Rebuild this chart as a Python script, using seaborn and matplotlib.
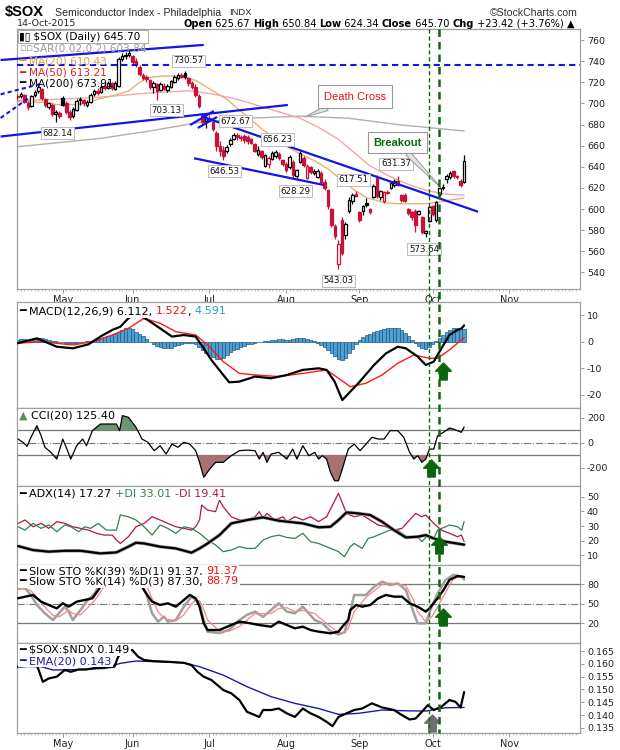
import numpy as np
import pandas as pd
import matplotlib
matplotlib.use("Agg")
import matplotlib.pyplot as plt
import matplotlib.transforms as mtransforms
from matplotlib.lines import Line2D
from matplotlib.path import Path
import seaborn as sns

sns.set_theme(style="white")
plt.rcParams['font.family'] = ['DejaVu Sans']
plt.rcParams['axes.unicode_minus'] = False
ARIAL = ['Liberation Sans', 'DejaVu Sans']

# ---------------- data ----------------
HOLIDAYS = ['2015-05-25', '2015-07-03', '2015-09-07', '2015-11-26']

OPEN = [706,707,708,700,698,708,712,714,704,697, 699,690,691,705,700,692,688,694,703,703,
        699,701,709,712,711,717,715,719,714,717, 742,745,746,745,740,735,727,725,722,716,
        718,713,717,713,716,720,724,727,729,724, 719,716,707,690,683,686,682,672,660,656,
        655,662,666,670,668,669,668,666,662,652, 655,641,643,647,650,652,646,643,640,645,
        631,645,648,629,640,634,630,634,626,618, 600,584,548,590,575,598,608,614,597,598,
        606,600,611,629,611,608,616,620,623,627, 613,613,600,597,598,595,592,577,589,603,
        590,614,620,628,630,636,631,627,625.67]
HIGH = [709,711,709,702,708,713,718,715,705,701, 700,694,693,707,702,694,697,704,706,704,
        703,710,714,715,719,720,721,720,721,744, 748,749,751,746,743,736,729,727,723,721,
        719,720,719,718,722,727,729,729,730.57,725, 721,718,709,691,688,689,683,674,664,660,
        661,667,672,672,670,671,670,667,663,660, 656.23,652,650,655,656,654,647,645,651,646,
        638,655,650,643,641,638,638,636,628,619, 601,586,571,592,588,611,615,617.51,598,604,
        610,601,624,632,618,617,618,626,628,631.37, 614,615,601,598,600,599,593,580,604,604,
        608,621,624,633,636,637,632,628,650.84]
LOW = [703,705,700,694,697,706,710,703,697,695, 688,682.14,686,698,690,684,686,693,699,698,
       697,700,707,708,710,713,714,713,713,716, 740,742,744,737,735,726,722,720,714,710,
       703.13,712,713,711,715,719,722,724,723,717, 714,706,696,680,677,683,674,655,650,646.53,
       653,660,665,665,664,663,662,662,654,650, 647,640,639,646,648,646,641,635,638,628.29,
       629,644,640,628,633,632,629,624,618,600, 583,572,543.03,556,572,596,605,611,588,594,
       602,595,610,610,609,606,614,619,621,622, 607,607,594,590,578,594,576,573.64,588,593,
       588,612,618,625,628,629,628,621,624.34]
CLOSE = [707,709,701,697,707,711,716,705,699,700, 690,692,688,699,692,687,695,702,704,700,
         701,708,712,710,716,715,719,715,719,742, 745,746,748,739,737,728,724,723,716,719,
         712,718,714,717,721,725,727,725,725,719, 716,708,698,682,686,684,676,660,655,650,
         659,665,670,668,667,665,664,663,655,656, 649,651,648,653,654,648,643,637,649,632,
         637,653,642,641,635,636,636,626,620,603, 585,574,567,558,586,609,613,612,590,603,
         604,597,622,612,617,616,615,625,627,623, 609,608,596,592,585,598,578,579,602,595,
         607,620,621,631,634,631,630,622.28,645.70]

MA20_X = [0, 8, 11, 16, 19.5, 23, 28, 32, 35, 37.5, 42, 47, 51, 54, 57, 60, 65, 70, 75, 80, 85, 89, 93, 97, 100, 105, 109, 113, 117, 121, 125, 128]
MA20_V = [702, 701, 699, 699, 700, 704, 708, 712, 720, 724.6, 726, 726, 722, 716, 710, 704, 690, 676, 664, 654, 646, 638, 627, 617, 611, 606, 605, 605, 605, 607, 609, 610.43]
MA50_X = [0, 12, 24, 38, 49, 56, 63, 70, 76, 81, 86, 92, 97, 101, 106, 110, 114, 118, 123, 128]
MA50_V = [703, 704, 706, 710, 712, 709, 704, 697, 691, 686, 678, 666, 652, 641, 632, 626, 621, 617, 614, 613.21]
MA200_X = [0, 12, 24, 38, 52, 66, 81, 95, 109, 128]
MA200_V = [659, 663, 667, 674, 682, 686, 688, 686, 680, 673.91]

# user-drawn trend lines (day index, price)
TREND_SOLID = [[(-4.8, 741.2), (53.4, 755.5)],
               [(-4.8, 668.7), (77.5, 698.6)],
               [(53.0, 687.5), (132.0, 597.4)],
               [(50.6, 648.1), (87.9, 622.7)],
               [(49.5, 679.6), (56.3, 692.9)],
               [(51.7, 676.8), (57.2, 687.2)]]
TREND_DOTTED = [[(-4.8, 708.7), (7.3, 719.1)],
                [(-4.8, 686.3), (3.8, 706.4)]]
RESIST_LEVEL = 736.0

PRICE_LABELS = [("730.57", 49.1, 740.3), ("703.13", 42.8, 693.8), ("682.14", 11.6, 672.0),
                ("672.67", 62.4, 683.0), ("656.23", 74.6, 665.9), ("646.53", 59.3, 636.0),
                ("628.29", 79.7, 617.0), ("617.51", 96.4, 627.5), ("631.37", 108.5, 642.7),
                ("573.64", 116.5, 562.0), ("543.03", 91.9, 531.8)]

MACD_X = [0, 5.6, 11.3, 15.9, 20.4, 23.8, 27.2, 29.5, 31.8, 33.5, 35.2, 37.4, 40.9, 44.3, 47.7, 51.1, 53.4, 55.6, 59.0, 60.7, 63.6, 68.1, 72.7, 77.2, 81.8, 86.3, 88.6, 90.9, 93.1, 95.4, 97.7, 102.2, 105.6, 109.0, 111.3, 114.7, 117.0, 119.3, 121.5, 123.8, 126.1, 127.3, 128]
MACD_V = [-0.6, 1.25, -1.9, -2.5, -1.0, 1.9, 4.4, 5.6, 8.75, 10.3, 9.8, 8.1, 5.0, 1.9, 2.5, 1.9, -2.5, -6.9, -12.5, -15.25, -15.0, -13.1, -13.75, -12.5, -10.6, -10.0, -10.6, -15.0, -21.9, -18.75, -15.6, -8.75, -4.4, -1.9, -2.5, -5.6, -8.75, -7.5, -2.5, 2.5, 4.4, 5.0, 6.112]
SIG_X = [0, 6.8, 15.9, 21.5, 27.2, 31.8, 36.3, 40.9, 45.4, 51.1, 54.5, 59.0, 63.6, 68.1, 74.9, 81.8, 88.6, 92.0, 95.4, 99.9, 104.5, 109.0, 113.6, 118.1, 120.4, 123.8, 128]
SIG_V = [-0.6, 0.0, -1.25, 0.0, 2.5, 5.0, 8.75, 6.9, 3.75, 2.5, -1.25, -7.5, -11.9, -12.5, -13.1, -11.9, -10.6, -13.75, -16.9, -15.6, -12.5, -8.1, -5.0, -6.25, -6.25, -3.1, 1.522]
HIST = [0.8,1.0,0.9,0.7,0.8,1.0,1.3,1.2,0.9,0.6,0.4,0.2,0.0,
        -0.2,-0.4,-0.6,-0.6,-0.4,-0.2,0.0,0.2,0.4,0.7,
        1.0,1.4,1.8,2.2,2.6,3.0,3.6,4.4,5.0,5.0,4.6,
        3.8,3.0,2.0,1.0,0.0,-0.8,-1.5,
        -2.0,-2.3,-2.4,-2.2,-1.8,-1.2,-0.8,-0.6,-0.5,-0.6,-1.0,
        -2.0,-3.2,-4.2,-5.0,-5.8,-6.4,-6.6,-6.0,-5.0,-4.0,-3.2,
        -2.6,-2.0,-1.5,-1.0,-0.7,-0.5,-0.3,0.0,
        0.2,0.4,0.6,0.8,0.9,1.0,0.8,0.6,0.9,1.2,1.4,1.2,1.0,0.6,0.2,
        -0.5,-1.2,-2.0,-3.0,-4.2,-5.4,-6.6,-7.0,-6.0,-4.4,-2.8,-1.0,
        0.6,1.6,2.4,3.0,3.6,4.0,4.4,4.8,5.0,5.2,5.2,5.0,4.4,3.4,2.0,
        0.6,-0.6,-1.6,-2.4,-2.6,-2.0,-1.0,
        0.2,1.4,2.6,3.6,4.4,5.0,5.2,5.0,4.591]

CCI_X = [0.2, 1.6, 2.8, 3.9, 5.6, 6.8, 7.9, 9.6, 11.3, 13.0, 14.2, 15.3, 17.0, 18.7, 19.8, 21.5, 23.8, 26.6, 28.4, 29.3, 30.1, 31.8, 34.0, 35.7, 37.4, 39.2, 40.9, 42.6, 44.3, 46.0, 47.7, 49.4, 51.1, 52.2, 53.4, 55.1, 56.8, 59.0, 61.3, 63.6, 65.8, 68.1, 69.3, 70.4, 71.5, 72.7, 74.9, 77.2, 78.9, 80.1, 81.8, 83.5, 85.2, 86.3, 87.4, 88.6, 89.7, 90.9, 92.0, 93.1, 94.8, 96.5, 98.2, 99.9, 101.6, 103.4, 105.1, 106.8, 109.0, 110.7, 112.4, 113.6, 114.7, 115.9, 117.0, 118.1, 119.3, 120.4, 122.1, 123.8, 124.9, 127.2, 128]
CCI_V = [29, 3, -29, 43, 136, 56, -37, -77, -131, 29, -51, -131, -24, 29, -24, 96, 149, 149, 149, 96, 216, 203, 123, 29, 3, -64, -24, -91, -11, -37, 3, -11, -64, -157, -277, -211, -157, -157, -104, -64, -59, -64, -131, -77, -157, -91, -77, -131, -51, -131, -24, -104, -77, -131, -104, -131, -237, -304, -304, -211, -51, -11, -64, -11, 43, 29, 29, 96, 96, 43, -77, -131, -104, -157, -131, -51, -51, 56, 83, 117, 109, 83, 125.4]

ADX_X = [0.2, 4.5, 9.0, 13.6, 18.1, 23.8, 28.4, 31.8, 34.0, 36.3, 40.9, 45.4, 49.9, 52.2, 54.5, 57.9, 61.3, 65.8, 70.4, 74.9, 81.8, 86.3, 89.7, 92.0, 94.3, 97.7, 101.1, 104.5, 107.9, 111.3, 114.7, 117.0, 119.3, 122.7, 128]
ADX_V = [16.3, 13.6, 12.5, 13.1, 13.1, 11.3, 12.0, 15.9, 18.6, 18.1, 15.9, 14.7, 11.8, 14.7, 18.1, 23.8, 31.8, 34.1, 35.9, 33.6, 31.8, 29.1, 29.5, 34.0, 39.3, 38.6, 37.5, 32.9, 27.2, 22.2, 22.7, 23.8, 21.5, 19.3, 17.27]
PDI_X = [0.2, 2.2, 4.5, 6.8, 9.0, 11.3, 13.6, 15.3, 17.6, 19.3, 21.0, 23.2, 25.5, 28.4, 29.5, 31.8, 34.0, 36.3, 38.6, 40.9, 43.1, 45.4, 47.7, 49.9, 52.2, 54.5, 56.8, 59.0, 61.3, 63.6, 65.8, 68.1, 70.4, 72.7, 74.9, 77.2, 79.5, 81.8, 84.0, 86.3, 88.6, 92.0, 93.7, 95.4, 96.5, 98.8, 100.5, 102.2, 104.5, 106.8, 109.0, 110.2, 112.4, 114.7, 115.9, 117.6, 119.3, 120.4, 122.7, 123.8, 126.1, 127.3, 128]
PDI_V = [29.5, 27.2, 31.8, 28.4, 30.7, 26.1, 30.7, 29.5, 26.1, 29.5, 28.4, 31.8, 27.2, 27.2, 37.5, 36.3, 34.1, 29.5, 23.8, 30.7, 28.4, 25.0, 29.5, 28.4, 25.0, 20.4, 17.0, 12.5, 13.6, 15.9, 14.7, 14.7, 20.4, 22.7, 23.8, 22.2, 21.5, 25.0, 19.3, 18.1, 15.9, 12.5, 9.0, 15.9, 18.1, 14.7, 21.5, 22.7, 25.0, 27.2, 27.2, 25.0, 21.5, 22.7, 19.3, 23.8, 21.5, 27.2, 29.5, 30.7, 29.5, 27.2, 33.01]
MDI_X = [0.2, 2.2, 4.5, 6.8, 9.0, 11.3, 13.6, 15.9, 18.1, 20.4, 22.7, 24.9, 27.2, 28.4, 29.5, 31.8, 34.0, 36.3, 38.6, 40.9, 43.1, 45.4, 47.7, 49.9, 51.1, 52.2, 52.8, 54.5, 56.8, 57.9, 59.0, 61.3, 63.6, 65.8, 68.1, 69.3, 70.4, 71.5, 73.8, 76.1, 77.2, 79.5, 81.8, 84.0, 86.3, 88.6, 90.3, 92.0, 94.3, 96.5, 98.8, 101.1, 103.4, 105.6, 107.9, 110.2, 112.4, 114.1, 115.9, 117.0, 119.3, 121.5, 123.8, 126.1, 127.2, 128]
MDI_V = [31.8, 34.1, 29.5, 31.8, 28.4, 33.0, 31.8, 29.5, 28.4, 27.2, 25.0, 23.8, 23.8, 20.4, 18.1, 22.7, 29.5, 31.8, 36.3, 34.1, 31.8, 29.5, 28.4, 27.2, 29.5, 34.1, 44.3, 40.9, 39.8, 47.7, 43.1, 36.3, 34.1, 34.1, 36.3, 39.8, 35.2, 38.6, 34.1, 36.3, 33.0, 36.3, 34.1, 36.3, 33.0, 36.3, 44.3, 52.3, 38.6, 36.3, 37.5, 34.1, 30.7, 29.5, 27.2, 28.4, 34.1, 38.6, 36.3, 37.5, 31.8, 27.2, 25.0, 22.7, 23.8, 19.41]

K39_X = [0.2, 4.5, 6.8, 9.0, 11.3, 13.0, 14.7, 17.0, 19.3, 21.5, 23.2, 23.8, 25.5, 28.4, 31.8, 34.0, 35.2, 35.7, 36.9, 38.6, 40.9, 43.1, 45.4, 47.7, 49.4, 51.1, 52.2, 53.4, 54.5, 57.9, 59.0, 61.3, 63.6, 65.8, 69.3, 72.7, 74.9, 77.2, 79.5, 81.8, 84.0, 86.3, 89.7, 92.0, 93.1, 94.8, 95.4, 97.1, 98.8, 101.1, 103.4, 105.6, 107.9, 110.2, 112.4, 114.7, 117.0, 118.1, 120.4, 122.1, 123.8, 126.1, 128]
K39_V = [58.5, 63.6, 53.3, 48.2, 43.0, 50.8, 45.6, 53.3, 55.9, 58.5, 71.3, 76.4, 90, 95, 99, 94, 85, 76, 66.0, 53.3, 48.2, 50.8, 45.6, 55.9, 63.6, 58.5, 45.6, 20.0, 9.7, 9.7, 12.3, 17.4, 22.6, 21.0, 17.4, 14.8, 22.6, 17.4, 12.3, 14.8, 9.7, 7.2, 4.6, 7.2, 14.8, 25.1, 40.5, 48.2, 45.6, 48.2, 58.5, 63.6, 61.0, 61.0, 50.8, 45.6, 38.0, 43.0, 58.5, 71.3, 86.7, 92.8, 91.37]
K14_X = [0.2, 2.2, 3.9, 5.6, 7.9, 10.2, 11.9, 13.6, 14.7, 15.9, 18.1, 19.8, 22.1, 23.8, 25.5, 28.4, 31.8, 34.0, 35.2, 36.9, 38.6, 40.3, 42.0, 43.1, 45.4, 47.7, 49.9, 51.1, 52.2, 53.4, 54.5, 57.9, 60.7, 63.6, 65.8, 68.1, 70.4, 72.7, 74.9, 77.2, 79.5, 81.8, 85.2, 87.4, 89.7, 92.0, 93.7, 94.8, 96.5, 99.9, 102.2, 104.5, 106.8, 109.0, 111.3, 113.6, 114.7, 117.0, 118.7, 120.4, 122.7, 124.9, 127.2, 128]
K14_V = [73.8, 73.8, 63.6, 48.2, 35.4, 25.0, 35.4, 45.6, 38.0, 25.0, 40.5, 53.3, 66.0, 81.5, 92, 97, 99, 96, 86.7, 66.0, 35.4, 22.6, 30.3, 22.6, 25.0, 45.6, 61.0, 56, 51, 25, 7, 5, 10, 25.0, 33, 38.0, 30, 40.5, 50.8, 38.0, 35.4, 45.6, 25.0, 20, 8, 3, 6, 25, 63.6, 63.6, 76.4, 84.0, 79, 81.5, 71.3, 35.4, 20.0, 20.0, 45.6, 66.0, 86.7, 94.4, 92, 87.30]
D3_X = K14_X
D3_V = [72, 74, 70, 60, 45, 32, 30, 36, 40, 35, 33, 42, 55, 68, 82, 94, 98, 97, 92, 80, 58, 38, 28, 26, 24, 33, 50, 56, 55, 42, 25, 8, 8, 15, 25, 35, 35, 35, 43, 44, 38, 40, 35, 25, 15, 6, 5, 12, 38, 60, 70, 80, 82, 80, 78, 55, 38, 22, 30, 45, 68, 88, 93, 88.79]

RATIO_X = [0.2, 5.6, 7.3, 9.0, 11.3, 13.6, 15.3, 17.6, 19.8, 22.7, 24.9, 27.8, 28.9, 30.1, 32.9, 34.6, 36.3, 38.6, 43.1, 47.7, 49.9, 51.6, 53.4, 55.6, 59.0, 61.3, 63.6, 65.8, 68.1, 69.3, 70.4, 72.7, 74.9, 77.2, 79.5, 81.8, 84.0, 86.3, 88.6, 90.3, 92.0, 94.3, 96.5, 98.8, 101.6, 104.5, 107.9, 110.2, 112.4, 114.1, 115.9, 117.6, 119.3, 121.5, 123.8, 125.5, 127.0, 128]
RATIO_V = [0.1589, 0.1595, 0.1530, 0.1543, 0.1550, 0.1576, 0.1569, 0.1578, 0.1578, 0.1585, 0.1585, 0.1589, 0.1628, 0.1647, 0.1654, 0.1628, 0.1615, 0.1611, 0.1608, 0.1604, 0.1595, 0.1569, 0.1550, 0.1537, 0.1498, 0.1485, 0.1459, 0.1413, 0.1400, 0.1393, 0.1420, 0.1420, 0.1426, 0.1407, 0.1393, 0.1426, 0.1407, 0.1393, 0.1374, 0.1357, 0.1393, 0.1407, 0.1420, 0.1426, 0.1446, 0.1430, 0.1420, 0.1400, 0.1383, 0.1387, 0.1413, 0.1439, 0.1420, 0.1433, 0.1459, 0.1452, 0.1430, 0.149]
EMA_X = [0, 6.8, 10.2, 18.1, 24.9, 29.5, 34.0, 40.9, 47.7, 52.2, 59.0, 65.8, 72.7, 79.5, 86.3, 92.0, 97.7, 104.5, 111.3, 117.0, 122.7, 128]
EMA_V = [0.1590, 0.1589, 0.1576, 0.1578, 0.1582, 0.1602, 0.1611, 0.1608, 0.1604, 0.1589, 0.1556, 0.1511, 0.1472, 0.1446, 0.1426, 0.1403, 0.1407, 0.1420, 0.1417, 0.1416, 0.1429, 0.1430]

SIGNAL_DAYS = [117.9, 120.7]          # vertical dashed markers
ARROWS = {"macd": (121.9, -11.0), "cci": (118.5, -203.0), "adx": (120.7, 17.0),
          "sto": (121.9, 29.0), "ratio": (118.8, 0.1371)}

# ---------------- figure ----------------
days = pd.bdate_range('2015-04-14', '2015-11-30')
days = days[~days.isin(pd.to_datetime(HOLIDAYS))]
N = len(CLOSE)
idx = np.arange(N)
month_pos = [i for i in range(1, len(days)) if days[i].month != days[i - 1].month]
month_lab = [days[i].strftime('%b') for i in month_pos]
XLIM = (-0.1, 161.2)

fig = plt.figure(figsize=(6.2, 7.5), dpi=100)
fig.patch.set_facecolor('white')


def px_axes(top, bottom, left=17, right=580):
    return fig.add_axes([left / 620, 1 - bottom / 750, (right - left) / 620, (bottom - top) / 750])


ax_p = px_axes(29.3, 289)
ax_m = px_axes(301.7, 408)
ax_c = px_axes(408, 486)
ax_a = px_axes(486, 565)
ax_s = px_axes(565, 642.7)
ax_r = px_axes(642.7, 732.7)


def style(ax, ylim, yticks, labels=None, xlabels=False):
    ax.set_facecolor('white')
    ax.set_xlim(*XLIM)
    ax.set_ylim(*ylim)
    ax.yaxis.tick_right()
    ax.set_yticks(yticks)
    if labels is not None:
        ax.set_yticklabels(labels)
    ax.tick_params(axis='y', which='both', length=3, width=0.7, color='#999999', labelsize=6.8,
                   pad=2, labelcolor='#222222', left=False, right=True)
    ax.set_xticks(month_pos)
    if xlabels:
        ax.set_xticklabels(month_lab)
        ax.set_xticks(np.arange(0, 161), minor=True)
        ax.tick_params(axis='x', which='major', length=3, width=0.7, color='#999999', labelsize=7,
                       pad=1.5, labelcolor='#222222', bottom=True)
        ax.tick_params(axis='x', which='minor', length=1.6, width=0.5, color='#aaaaaa', bottom=True)
    else:
        ax.set_xticklabels([])
        ax.tick_params(axis='x', length=0)
    for s in ax.spines.values():
        s.set_color('#a0a0a0')
        s.set_linewidth(0.9)
    ax.set_xlabel('')
    ax.set_ylabel('')


def line(ax, X, V, color, lw, z=3):
    sns.lineplot(x=X, y=V, ax=ax, color=color, linewidth=lw, estimator=None, sort=False, zorder=z)


RED = '#cc1136'

# ---- price panel ----
o = np.array(OPEN, float); h = np.array(HIGH, float); l = np.array(LOW, float); c = np.array(CLOSE, float)
prev = np.r_[c[0] + 1, c[:-1]]
edge = np.where(c < prev, RED, 'black')
face = np.where(c < o, edge, 'white')
line(ax_p, MA200_X, MA200_V, '#b0b0b0', 1.0, 2)
line(ax_p, MA50_X, MA50_V, '#f0a8a8', 1.0, 2)
line(ax_p, MA20_X, MA20_V, '#e6b470', 1.0, 2)
ax_p.vlines(idx, l, h, colors=edge, linewidth=0.9, zorder=4)
ax_p.bar(idx, np.maximum(np.abs(c - o), 0.6), bottom=np.minimum(o, c), width=0.74,
         color=face, edgecolor=edge, linewidth=0.9, zorder=5)
for seg in TREND_SOLID:
    ax_p.plot([seg[0][0], seg[1][0]], [seg[0][1], seg[1][1]], color='#1414e6', lw=1.6,
              zorder=6, clip_on=False, solid_capstyle='butt')
for seg in TREND_DOTTED:
    ax_p.plot([seg[0][0], seg[1][0]], [seg[0][1], seg[1][1]], color='#1414e6', lw=1.5,
              ls=(0, (2, 1.5)), zorder=6, clip_on=False)
ax_p.axhline(RESIST_LEVEL, color='#1414e6', lw=1.5, ls=(0, (3, 2)), zorder=6)
for s, xi, yv in PRICE_LABELS:
    ax_p.text(xi, yv, s, ha='center', va='center', fontsize=6.2, color='#111111', zorder=8,
              bbox=dict(boxstyle='square,pad=0.18', fc='white', ec='#bbbbbb', lw=0.7))
ax_p.annotate("Death Cross", xy=(82.4, 687.2), xytext=(96.8, 706.6), color='#ee1111', fontsize=8,
              family=ARIAL, ha='center', va='center', zorder=9,
              bbox=dict(boxstyle='square,pad=0.55', fc='white', ec='#999999', lw=0.8),
              arrowprops=dict(arrowstyle='wedge,tail_width=0.5', fc='#e4e4e4', ec='#999999', lw=0.7,
                              shrinkA=0, shrinkB=0))
ax_p.annotate("Breakout", xy=(121.4, 619.9), xytext=(108.9, 663.0), color='#0a6a0a', fontsize=8,
              fontweight='bold', family=ARIAL, ha='center', va='center', zorder=9,
              bbox=dict(boxstyle='square,pad=0.5', fc='white', ec='#999999', lw=0.8),
              arrowprops=dict(arrowstyle='wedge,tail_width=0.5', fc='#e4e4e4', ec='#999999', lw=0.7,
                              shrinkA=0, shrinkB=0))
style(ax_p, (524.2, 770.3), list(range(540, 761, 20)), xlabels=True)

# ---- MACD ----
ax_m.bar(idx, HIST, width=1.0, color='#4f9fd3', edgecolor='#1f5a85', linewidth=0.5, zorder=2)
line(ax_m, SIG_X, SIG_V, '#ff1a1a', 1.0)
line(ax_m, MACD_X, MACD_V, 'black', 1.6, 4)
style(ax_m, (-24.9, 15), [-20, -10, 0, 10])

# ---- CCI ----
cx = np.array(CCI_X); cv = np.array(CCI_V, float)
ax_c.fill_between(cx, cv, 100, where=cv >= 100, interpolate=True, color='#6e9472', lw=0, zorder=2)
ax_c.fill_between(cx, cv, -100, where=cv <= -100, interpolate=True, color='#a77272', lw=0, zorder=2)
for lv in (100, -100):
    ax_c.axhline(lv, color='#777777', lw=0.9, zorder=1)
ax_c.axhline(0, color='#777777', lw=0.8, ls='-.', zorder=1)
line(ax_c, CCI_X, CCI_V, 'black', 0.9, 4)
style(ax_c, (-346, 277), [-200, 0, 200])

# ---- ADX ----
line(ax_a, MDI_X, MDI_V, '#b3173f', 0.9)
line(ax_a, PDI_X, PDI_V, '#2f8150', 0.9)
line(ax_a, ADX_X, ADX_V, '#aaaaaa', 2.6, 4)
line(ax_a, ADX_X, ADX_V, 'black', 1.6, 5)
style(ax_a, (3.4, 57.3), [10, 20, 30, 40, 50])

# ---- Slow STO ----
for lv in (20, 80):
    ax_s.axhline(lv, color='#777777', lw=0.9, zorder=1)
ax_s.axhline(50, color='#777777', lw=0.8, ls='-.', zorder=1)
line(ax_s, K14_X, K14_V, '#a0a0a0', 1.8, 3)
line(ax_s, D3_X, D3_V, '#f08a8a', 0.9, 4)
line(ax_s, K39_X, K39_V, 'black', 1.7, 5)
style(ax_s, (-9.8, 109.7), [20, 50, 80])

# ---- ratio ----
line(ax_r, EMA_X, EMA_V, '#1a1aa8', 1.0, 3)
line(ax_r, RATIO_X, RATIO_V, 'black', 1.6, 4)
rt = [0.135, 0.140, 0.145, 0.150, 0.155, 0.160, 0.165]
style(ax_r, (0.13316, 0.16824), rt, labels=[f"{v:.3f}" for v in rt], xlabels=True)

# ---- signal day markers ----
trans = mtransforms.blended_transform_factory(ax_p.transData, fig.transFigure)
for xd, lw in zip(SIGNAL_DAYS, (1.0, 1.8)):
    fig.add_artist(Line2D([xd, xd], [1 - 29.3 / 750, 1 - 732.7 / 750], transform=trans,
                          color='#0b6b0b', lw=lw, ls=(0, (3, 2)), zorder=20))

arrow = Path([(-0.22, -0.5), (0.22, -0.5), (0.22, 0.02), (0.46, 0.02), (0, 0.5),
              (-0.46, 0.02), (-0.22, 0.02), (-0.22, -0.5)], closed=True)
for key, ax in (("macd", ax_m), ("cci", ax_c), ("adx", ax_a), ("sto", ax_s), ("ratio", ax_r)):
    col = '#6e6e6e' if key == "ratio" else '#0b640b'
    ax.scatter([ARROWS[key][0]], [ARROWS[key][1]], marker=arrow, s=150, color=col,
               edgecolors=col, zorder=25, clip_on=False)

# ---- overlay text (pixel coordinates) ----
ov = fig.add_axes([0, 0, 1, 1])
ov.set_xlim(0, 620)
ov.set_ylim(750, 0)
ov.axis('off')
ov.patch.set_alpha(0)
ov.set_zorder(30)


def chain(x, y, parts, size=8.0, family=None, bg=False):
    kw = dict(fontsize=size, va='center', ha='left', zorder=31)
    if family:
        kw['family'] = family
    bb = dict(boxstyle='square,pad=0.1', fc='white', ec='none') if bg else None
    t = None
    for s, col, bold in parts:
        w = 'bold' if bold else 'normal'
        if t is None:
            t = ov.text(x, y, s, color=col, fontweight=w, bbox=bb, **kw)
        else:
            t = ov.annotate(s, xy=(1, 0.5), xycoords=t, color=col, fontweight=w, bbox=bb, **kw)
    return t


# header
ov.text(5, 12, "\\$SOX", fontsize=10.5, fontweight='bold', family=ARIAL, va='center', color='black')
ov.text(55, 12.5, "Semiconductor Index - Philadelphia", fontsize=7.6, family=ARIAL, va='center')
ov.text(229, 12.5, "INDX", fontsize=6.8, family=ARIAL, va='center')
ov.text(578, 12.5, "©StockCharts.com", fontsize=7.6, family=ARIAL, va='center', ha='right', color='#333333')
ov.text(17, 24, "14-Oct-2015", fontsize=6.8, va='center')
chain(183, 24, [("Open", 'black', True), (" 625.67 ", 'black', False), ("High", 'black', True),
                (" 650.84 ", 'black', False), ("Low", 'black', True), (" 624.34 ", 'black', False),
                ("Close", 'black', True), (" 645.70 ", 'black', False), ("Chg", 'black', True),
                (" +23.42 (+3.76%) ", 'black', False), ("▲", 'black', False)], size=7.1)

# price legend
ov.add_patch(plt.Rectangle((17.5, 30), 130, 13, fc='white', ec='#aaaaaa', lw=0.7, zorder=30))
chain(19, 36.5, [("▮▯", 'black', False), (" \\$SOX (Daily) 645.70", 'black', False)], size=7.6)
chain(19, 48.5, [("▫▫", '#999999', False), ("SAR(0.02,0.2) 603.84", '#999999', False)], size=7.6)
chain(19, 61, [("━ ", '#d9a040', False), ("MA(20) 610.43", '#d9a040', False)], size=7.6)
chain(19, 72.5, [("━ ", '#dd2222', False), ("MA(50) 613.21", '#dd2222', False)], size=7.6)
chain(19, 83.5, [("━ ", 'black', False), ("MA(200) 673.91", 'black', False)], size=7.6)

# indicator legends
chain(19, 311.5, [("━ ", 'black', False), ("MACD(12,26,9) 6.112, ", 'black', False), ("1.522", '#ee1111', False),
                  (", ", 'black', False), ("4.591", '#3399cc', False)], bg=True)
chain(19, 415.5, [("▲ ", '#5f8a5f', False), ("CCI(20) 125.40", 'black', False)], bg=True)
chain(19, 494, [("━ ", 'black', False), ("ADX(14) 17.27 ", 'black', False), ("+DI 33.01 ", '#2f8150', False),
                ("-DI 19.41", '#b3173f', False)], bg=True)
chain(19, 571, [("━ ", 'black', False), ("Slow STO %K(39) %D(1) 91.37, ", 'black', False),
                ("91.37", '#ee1111', False)], bg=True)
chain(19, 581.5, [("━ ", 'black', False), ("Slow STO %K(14) %D(3) 87.30, ", 'black', False),
                  ("88.79", '#ee1111', False)], bg=True)
chain(19, 650, [("━ ", 'black', False), ("\\$SOX:\\$NDX 0.149", 'black', False)], bg=True)
chain(19, 661, [("━ ", '#1a1aa8', False), ("EMA(20) 0.143", '#1a1aa8', False)], bg=True)

fig.savefig("out.png", dpi=100, facecolor='white')
